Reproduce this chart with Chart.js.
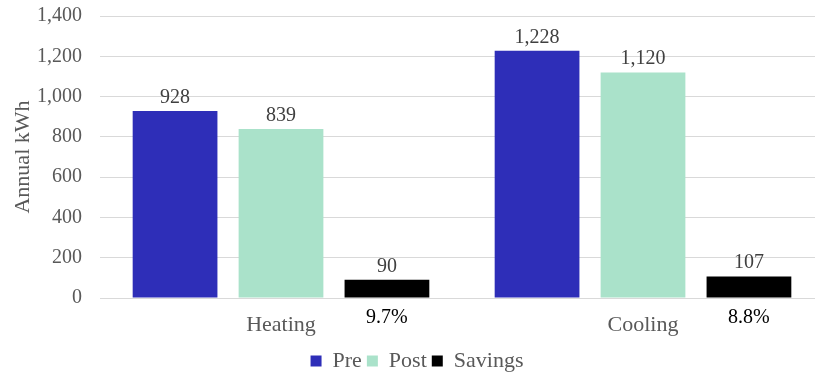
<!DOCTYPE html>
<html>
<head>
<meta charset="utf-8">
<script src="https://cdn.jsdelivr.net/npm/chart.js@4"></script>
<style>
  html, body { margin: 0; padding: 0; background: #fff; overflow: hidden; }
  #wrap { width: 815px; height: 375px; overflow: hidden; }
</style>
</head>
<body>
<div id="wrap"><canvas id="chartCanvas" width="825" height="382"></canvas></div>
<script>
"use strict";

const categories = ["Heating", "Cooling"];
const preValues = [928, 1228];
const postValues = [839, 1120];
const savingsValues = [90, 107];
const savingsPct = ["9.7%", "8.8%"];
const yTicks = [0, 200, 400, 600, 800, 1000, 1200, 1400];

const FONT = "'Liberation Serif', 'Times New Roman', serif";

// value labels above every bar, percentage under the savings bars
const barLabels = {
  id: "barLabels",
  afterDatasetsDraw(chart) {
    const ctx = chart.ctx;
    ctx.save();
    ctx.font = "20px " + FONT;
    ctx.fillStyle = "#404040";
    ctx.textAlign = "center";
    ctx.textBaseline = "alphabetic";
    chart.data.datasets.forEach((ds, i) => {
      chart.getDatasetMeta(i).data.forEach((bar, j) => {
        ctx.fillText(ds.data[j].toLocaleString("en-US"), bar.x, bar.y - 8);
      });
    });

    ctx.fillStyle = "#000";
    ctx.textBaseline = "middle";
    chart.getDatasetMeta(2).data.forEach((bar, j) => {
      ctx.fillText(savingsPct[j], bar.x, chart.chartArea.bottom + 20);
    });
    ctx.restore();
  },
};

const ctx = document.getElementById("chartCanvas").getContext("2d");

new Chart(ctx, {
  type: "bar",
  data: {
    labels: categories,
    datasets: [
      { label: "Pre", data: preValues, backgroundColor: "#2E2EB8" },
      { label: "Post", data: postValues, backgroundColor: "#AAE2CA" },
      { label: "Savings", data: savingsValues, backgroundColor: "#000000" },
    ],
  },
  options: {
    responsive: false,
    animation: false,
    layout: { padding: { top: 16, right: 1, bottom: 0, left: 10 } },
    datasets: {
      bar: { categoryPercentage: 0.878, barPercentage: 0.8 },
    },
    plugins: {
      tooltip: { enabled: false },
      legend: {
        position: "bottom",
        labels: {
          font: { family: FONT, size: 22 },
          color: "#595959",
          boxWidth: 11,
          boxHeight: 11,
          padding: 5,
        },
      },
    },
    scales: {
      x: {
        grid: { display: false, drawTicks: false },
        border: { display: false },
        ticks: {
          font: { family: FONT, size: 22 },
          color: "#595959",
          padding: 14,
        },
        afterFit: (scale) => { scale.height = 47; },
      },
      y: {
        min: 0,
        max: 1400,
        afterBuildTicks: (scale) => {
          scale.ticks = yTicks.map((v) => ({ value: v }));
        },
        grid: { color: "#D9D9D9", drawTicks: false, lineWidth: 1 },
        border: { display: false },
        ticks: {
          font: { family: FONT, size: 20 },
          color: "#595959",
          padding: 18,
          callback: (v) => v.toLocaleString("en-US"),
        },
        title: {
          display: true,
          text: "Annual kWh",
          font: { family: FONT, size: 22 },
          color: "#595959",
          padding: 0,
        },
        afterFit: (scale) => {
          scale.width = 90;
          scale.paddingTop = 0;
          scale.paddingBottom = 0;
        },
      },
    },
  },
  plugins: [barLabels],
});
</script>
</body>
</html>
